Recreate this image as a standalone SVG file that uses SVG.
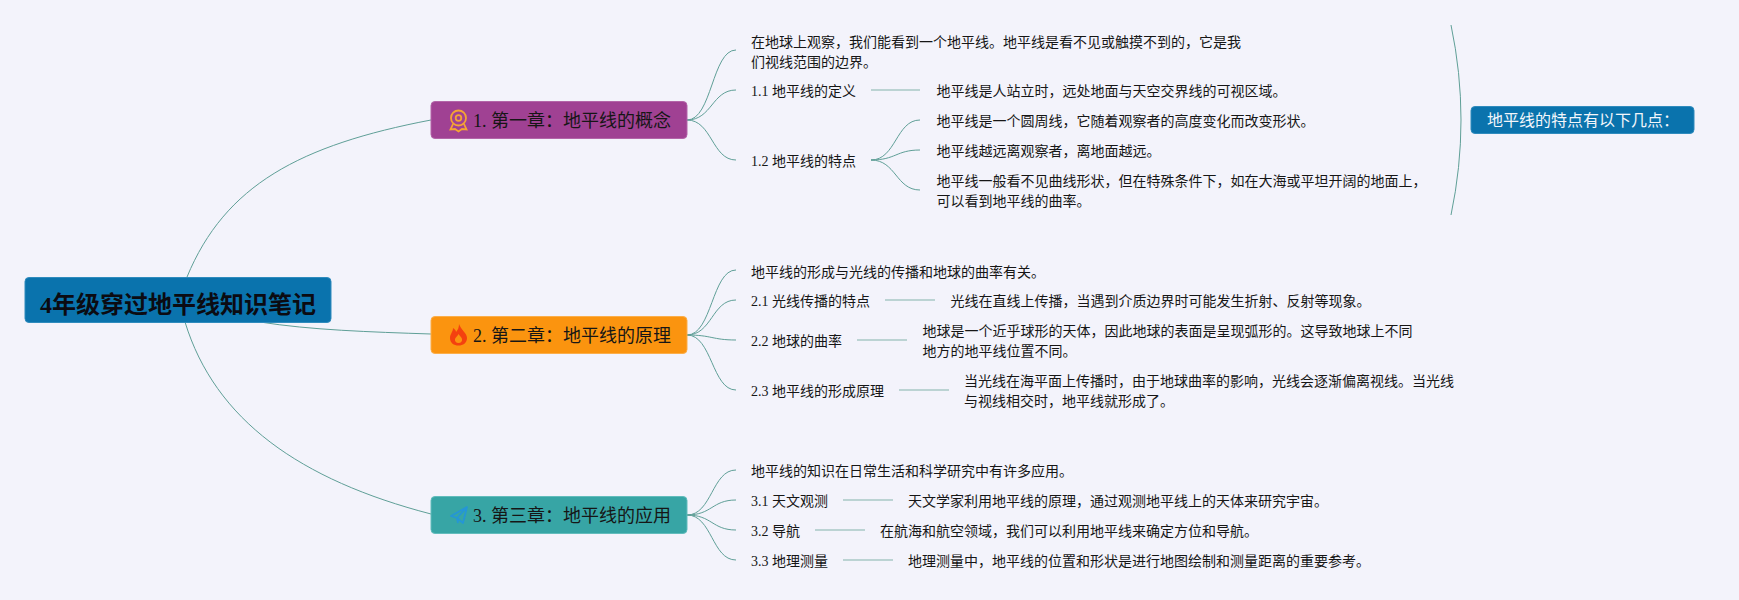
<svg xmlns="http://www.w3.org/2000/svg" width="1739" height="600" viewBox="0 0 1739 600">
<style>
text{font-family:"Liberation Serif","Noto Sans CJK SC",sans-serif;fill:#161616}
.s{font-size:14px}
.m{font-size:18px}
.w{font-size:16px;fill:#f3f6fb}
.r{font-size:24px;font-weight:700;fill:#0b0b12}
.box{stroke-width:1;rx:4}
.c{fill:none;stroke:#5f9f97;stroke-width:1}
.l{fill:none;stroke:#a9c9c6;stroke-width:1.6}
</style>
<rect width="1739" height="600" fill="#f3f3fb"/>
<g id="connectors">
<path class="c" d="M187,277 C225,185 300,145 431,120"/>
<path class="c" d="M260,322 C310,330 370,332 431,334"/>
<path class="c" d="M185,322 C215,420 300,480 431,514"/>
<path class="c" d="M687,120 C712,120 712,50 736,50"/>
<path class="c" d="M687,120 C712,120 712,90 736,90"/>
<path class="c" d="M687,120 C712,120 712,160 736,160"/>
<path class="l" d="M871,90 H920"/>
<path class="c" d="M871,160 C896,160 896,120 920,120"/>
<path class="c" d="M871,160 C896,160 896,150 920,150"/>
<path class="c" d="M871,160 C896,160 896,190 920,190"/>
<path class="c" d="M1451,25 Q1471,120 1451,215"/>
<path class="c" d="M687,335 C712,335 712,270 736,270"/>
<path class="c" d="M687,335 C712,335 712,300 736,300"/>
<path class="c" d="M687,335 C712,335 712,340 736,340"/>
<path class="c" d="M687,335 C712,335 712,390 736,390"/>
<path class="l" d="M885,300 H935"/>
<path class="l" d="M857,340 H907"/>
<path class="l" d="M899,390 H949"/>
<path class="c" d="M687,515 C712,515 712,470 736,470"/>
<path class="c" d="M687,515 C712,515 712,500 736,500"/>
<path class="c" d="M687,515 C712,515 712,530 736,530"/>
<path class="c" d="M687,515 C712,515 712,560 736,560"/>
<path class="l" d="M843,500 H893"/>
<path class="l" d="M815,530 H865"/>
<path class="l" d="M843,560 H893"/>
</g>
<g id="root"><rect class="box" x="25" y="277.5" width="306" height="45" fill="#0a73ad" stroke="#2f8bbd"/><text class="r" x="40" y="312.500">4年级穿过地平线知识笔记</text></g>
<g id="ch1"><rect class="box" x="431" y="101.500" width="256" height="37" fill="#a04193" stroke="#b365a8"/>
<g fill="none" stroke="#f5a533" stroke-width="1.800"><circle cx="458.500" cy="118" r="7.500"/><circle cx="458.500" cy="118" r="2.800"/><path d="M453,124 L450.500,129.500 L455,129 L458.500,131.500 L462,129 L466.500,129.500 L464,124"/></g>
<text class="m" x="473" y="127">1. 第一章&#xFF1A;地平线的概念</text></g>
<g id="ch2"><rect class="box" x="431" y="316.500" width="256" height="37" fill="#fb940f" stroke="#fbae4a"/>
<path d="M459,324 C461,330 467,333 467,338 C467,343 463,345.500 458.500,345.500 C454,345.500 450,343 450,338 C450,334 453,332 453,328 C455,329 456,331 456,332 C458,330 459,327 459,324 Z M458.500,343 C461,343 462.500,341 462,339 C461.500,337 459,335 458.500,334 C458,336 455.500,337 455,339 C454.500,341 456,343 458.500,343 Z" fill="#f4410f" fill-rule="evenodd"/>
<text class="m" x="473" y="342">2. 第二章&#xFF1A;地平线的原理</text></g>
<g id="ch3"><rect class="box" x="431" y="496.500" width="256" height="37" fill="#37a5a5" stroke="#62bcbc"/>
<path d="M467,507 L451,516 L457,518 L463,523 Z M467,507 L457,518 L458,523" fill="none" stroke="#2596d6" stroke-width="1.800" stroke-linejoin="round"/>
<text class="m" x="473" y="522">3. 第三章&#xFF1A;地平线的应用</text></g>
<g id="n-intro1"><text class="s" x="751" y="47">在地球上观察&#xFF0C;我们能看到一个地平线。地平线是看不见或触摸不到的&#xFF0C;它是我</text><text class="s" x="751" y="67">们视线范围的边界。</text></g>
<g id="n11"><text class="s" x="751" y="96">1.1 地平线的定义</text></g>
<g id="n11a"><text class="s" x="936.500" y="96">地平线是人站立时&#xFF0C;远处地面与天空交界线的可视区域。</text></g>
<g id="n12"><text class="s" x="751" y="166">1.2 地平线的特点</text></g>
<g id="n12a"><text class="s" x="936.500" y="126">地平线是一个圆周线&#xFF0C;它随着观察者的高度变化而改变形状。</text></g>
<g id="n12b"><text class="s" x="936.500" y="156">地平线越远离观察者&#xFF0C;离地面越远。</text></g>
<g id="n12c"><text class="s" x="936.500" y="186">地平线一般看不见曲线形状&#xFF0C;但在特殊条件下&#xFF0C;如在大海或平坦开阔的地面上&#xFF0C;</text><text class="s" x="936.500" y="206">可以看到地平线的曲率。</text></g>
<g id="side"><rect class="box" x="1471" y="106.500" width="223" height="27" fill="#0a73ad" stroke="#2f8bbd"/><text class="w" x="1487" y="126">地平线的特点有以下几点&#xFF1A;</text></g>
<g id="n-intro2"><text class="s" x="751" y="277">地平线的形成与光线的传播和地球的曲率有关。</text></g>
<g id="n21"><text class="s" x="751" y="306">2.1 光线传播的特点</text></g>
<g id="n21a"><text class="s" x="950.500" y="306">光线在直线上传播&#xFF0C;当遇到介质边界时可能发生折射、反射等现象。</text></g>
<g id="n22"><text class="s" x="751" y="346">2.2 地球的曲率</text></g>
<g id="n22a"><text class="s" x="922.500" y="336">地球是一个近乎球形的天体&#xFF0C;因此地球的表面是呈现弧形的。这导致地球上不同</text><text class="s" x="922.500" y="356">地方的地平线位置不同。</text></g>
<g id="n23"><text class="s" x="751" y="396">2.3 地平线的形成原理</text></g>
<g id="n23a"><text class="s" x="964" y="386">当光线在海平面上传播时&#xFF0C;由于地球曲率的影响&#xFF0C;光线会逐渐偏离视线。当光线</text><text class="s" x="964" y="406">与视线相交时&#xFF0C;地平线就形成了。</text></g>
<g id="n-intro3"><text class="s" x="751" y="476">地平线的知识在日常生活和科学研究中有许多应用。</text></g>
<g id="n31"><text class="s" x="751" y="506">3.1 天文观测</text></g>
<g id="n31a"><text class="s" x="908" y="506">天文学家利用地平线的原理&#xFF0C;通过观测地平线上的天体来研究宇宙。</text></g>
<g id="n32"><text class="s" x="751" y="536">3.2 导航</text></g>
<g id="n32a"><text class="s" x="880" y="536">在航海和航空领域&#xFF0C;我们可以利用地平线来确定方位和导航。</text></g>
<g id="n33"><text class="s" x="751" y="566">3.3 地理测量</text></g>
<g id="n33a"><text class="s" x="908" y="566">地理测量中&#xFF0C;地平线的位置和形状是进行地图绘制和测量距离的重要参考。</text></g>
</svg>
